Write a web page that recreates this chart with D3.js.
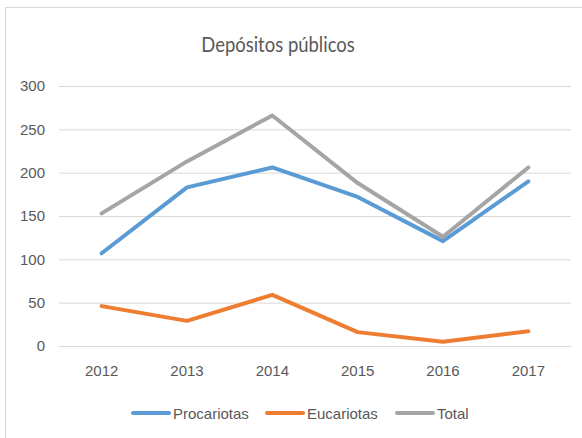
<!DOCTYPE html>
<html>
<head>
<meta charset="utf-8">
<script src="https://cdn.jsdelivr.net/npm/d3@7"></script>
<style>
    body { margin: 0; background: #fff; }
    svg text { font-family: "Liberation Sans", sans-serif; fill: #595959; }
</style>
</head>
<body>
<div id="chart"></div>
<script>
let years = ['2012', '2013', '2014', '2015', '2016', '2017'];
let procariotas = [107, 183, 206, 172, 121, 190];
let eucariotas = [46, 29, 59, 16, 5, 17];
let total = [153, 213, 266, 188, 126, 206];
let yTicks = [0, 50, 100, 150, 200, 250, 300];
let seriesNames = ['Procariotas', 'Eucariotas', 'Total'];
let seriesColors = ['#5b9bd5', '#ed7d31', '#a5a5a5'];

function drawChart() {
    let width = 582, height = 438;
    let plot = {left: 59, right: 571, top: 86, bottom: 346};

    let svg = d3.select('#chart').append('svg')
        .attr('width', width)
        .attr('height', height);

    // chart border
    svg.append('rect')
        .attr('x', 5.5).attr('y', 7.5)
        .attr('width', width + 10).attr('height', height + 10)
        .attr('fill', 'none')
        .attr('stroke', '#d9d9d9');

    // title, squeezed a bit so it looks like the narrow original font
    svg.append('text')
        .attr('transform', 'translate(278,52) scale(0.84,1)')
        .attr('text-anchor', 'middle')
        .style('font-family', 'Lato, sans-serif')
        .style('font-size', '22px')
        .text('Depósitos públicos');

    let x = d3.scaleBand()
        .domain(years)
        .range([plot.left, plot.right]);
    let y = d3.scaleLinear()
        .domain([0, 300])
        .range([plot.bottom, plot.top]);

    // gridlines + y labels
    let yAxis = d3.axisLeft(y)
        .tickValues(yTicks)
        .tickSize(-(plot.right - plot.left))
        .tickPadding(14);
    let gy = svg.append('g')
        .attr('transform', `translate(${plot.left},0)`)
        .call(yAxis);
    gy.select('.domain').remove();
    gy.selectAll('line').attr('stroke', '#d9d9d9').attr('stroke-width', 1);
    gy.selectAll('text').style('font-size', '15px').attr('fill', '#595959');

    let xAxis = d3.axisBottom(x).tickSize(0).tickPadding(19);
    let gx = svg.append('g')
        .attr('transform', `translate(0,${plot.bottom})`)
        .call(xAxis);
    gx.select('.domain').remove();
    gx.selectAll('text').style('font-size', '15px').attr('fill', '#595959');

    let line = d3.line()
        .x((d, i) => x(years[i]) + x.bandwidth() / 2)
        .y(d => y(d));

    let allSeries = [procariotas, eucariotas, total];
    allSeries.forEach((values, i) => {
        svg.append('path')
            .datum(values)
            .attr('d', line)
            .attr('fill', 'none')
            .attr('stroke', seriesColors[i])
            .attr('stroke-width', 4)
            .attr('stroke-linecap', 'round')
            .attr('stroke-linejoin', 'round');
    });

    // legend
    let legendX = [133, 267, 397];
    let legend = svg.append('g').attr('transform', 'translate(0,413)');
    seriesNames.forEach((name, i) => {
        legend.append('line')
            .attr('x1', legendX[i]).attr('x2', legendX[i] + 36)
            .attr('y1', 0).attr('y2', 0)
            .attr('stroke', seriesColors[i])
            .attr('stroke-width', 4)
            .attr('stroke-linecap', 'round');
        legend.append('text')
            .attr('x', legendX[i] + 40).attr('y', 5.5)
            .style('font-size', '15px')
            .text(name);
    });
}

drawChart();
</script>
</body>
</html>
